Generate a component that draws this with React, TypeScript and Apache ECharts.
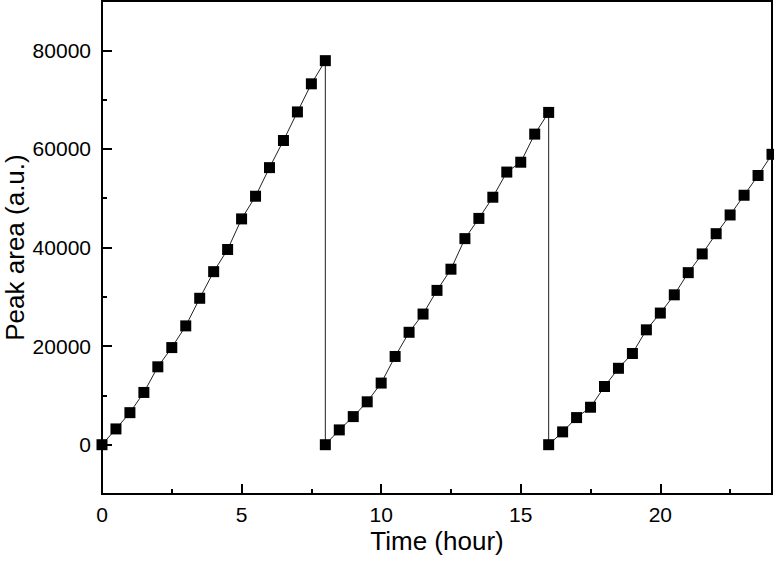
import React, { useEffect, useRef } from "react";
import * as echarts from "echarts";

// Run 1: 0–8 h
const timeRun1 = [0, 0.5, 1, 1.5, 2, 2.5, 3, 3.5, 4, 4.5, 5, 5.5, 6, 6.5, 7, 7.5, 8];
const areaRun1 = [0, 3200, 6500, 10600, 15800, 19700, 24100, 29700, 35100, 39600, 45800, 50400, 56200, 61700, 67500, 73200, 77900];
// Run 2: 8–16 h
const timeRun2 = [8, 8.5, 9, 9.5, 10, 10.5, 11, 11.5, 12, 12.5, 13, 13.5, 14, 14.5, 15, 15.5, 16];
const areaRun2 = [0, 3000, 5700, 8700, 12500, 17900, 22800, 26500, 31300, 35600, 41800, 45900, 50200, 55300, 57300, 63000, 67400];
// Run 3: 16–24 h
const timeRun3 = [16, 16.5, 17, 17.5, 18, 18.5, 19, 19.5, 20, 20.5, 21, 21.5, 22, 22.5, 23, 23.5, 24];
const areaRun3 = [0, 2600, 5500, 7600, 11800, 15500, 18500, 23300, 26700, 30400, 34900, 38700, 42800, 46600, 50600, 54600, 58900];

const xMajorTicks = [0, 5, 10, 15, 20];
const xMinorTicks = [2.5, 7.5, 12.5, 17.5, 22.5];
const yMajorTicks = [0, 20000, 40000, 60000, 80000];
const yMinorTicks = [10000, 30000, 50000, 70000];

const FONT = "'Liberation Sans', Arial, sans-serif";

export default function App() {
  const ref = useRef<HTMLDivElement>(null);

  useEffect(() => {
    if (!ref.current) return;
    const chart = echarts.init(ref.current, null, { renderer: "svg" });
    const data: number[][] = [];
    [
      [timeRun1, areaRun1],
      [timeRun2, areaRun2],
      [timeRun3, areaRun3],
    ].forEach(([t, a]) => {
      t.forEach((x, i) => data.push([x, a[i]]));
    });

    const baseAxis = (kind: "x" | "y"): any => ({
      type: "value",
      min: kind === "x" ? 0 : -10000,
      max: kind === "x" ? 24 : 90000,
      interval: kind === "x" ? 2.5 : 10000,
      position: kind === "x" ? "bottom" : "left",
      splitLine: { show: false },
      minorTick: { show: false },
    });

    // axis with line + labels + title, no ticks
    const mainAxis = (kind: "x" | "y", labels: number[], name: string): any => ({
      ...baseAxis(kind),
      axisLine: { show: true, onZero: false, lineStyle: { color: "#000", width: 2 } },
      axisTick: { show: false },
      axisLabel: {
        show: true,
        customValues: labels,
        formatter: (v: number) => String(v),
        fontSize: 21,
        fontFamily: FONT,
        color: "#000",
        margin: kind === "x" ? 10 : 11,
      },
      name,
      nameLocation: "middle",
      nameMoveOverlap: false,
      nameGap: kind === "x" ? 34 : 74,
      nameRotate: kind === "x" ? 0 : 90,
      nameTextStyle: { fontSize: 26, fontFamily: FONT, color: "#000" },
    });

    // tick-only axis
    const tickAxis = (kind: "x" | "y", values: number[], len: number): any => ({
      ...baseAxis(kind),
      axisLine: { show: false, onZero: false },
      axisTick: {
        show: true,
        inside: true,
        length: len,
        customValues: values,
        lineStyle: { color: "#000", width: 2 },
      },
      axisLabel: { show: false },
    });

    chart.setOption({
      animation: false,
      backgroundColor: "#fff",
      grid: {
        left: 102,
        right: 2,
        top: 1,
        bottom: 75,
        containLabel: false,
        outerBoundsMode: "none",
        show: true,
        borderColor: "#000",
        borderWidth: 2,
        backgroundColor: "transparent",
      },
      xAxis: [
        mainAxis("x", xMajorTicks, "Time (hour)"),
        tickAxis("x", xMajorTicks, 10),
        tickAxis("x", xMinorTicks, 5),
      ],
      yAxis: [
        mainAxis("y", yMajorTicks, "Peak area (a.u.)"),
        tickAxis("y", yMajorTicks, 10),
        tickAxis("y", yMinorTicks, 5),
      ],
      series: [
        {
          type: "line",
          xAxisIndex: 0,
          yAxisIndex: 0,
          data,
          symbol: "rect",
          symbolSize: 11,
          itemStyle: { color: "#000" },
          lineStyle: { color: "#222", width: 1 },
          clip: true,
        },
      ],
    });
    return () => chart.dispose();
  }, []);

  return (
    <div
      ref={ref}
      style={{ position: "fixed", left: 0, top: 0, width: 774, height: 569, background: "#fff" }}
    />
  );
}
